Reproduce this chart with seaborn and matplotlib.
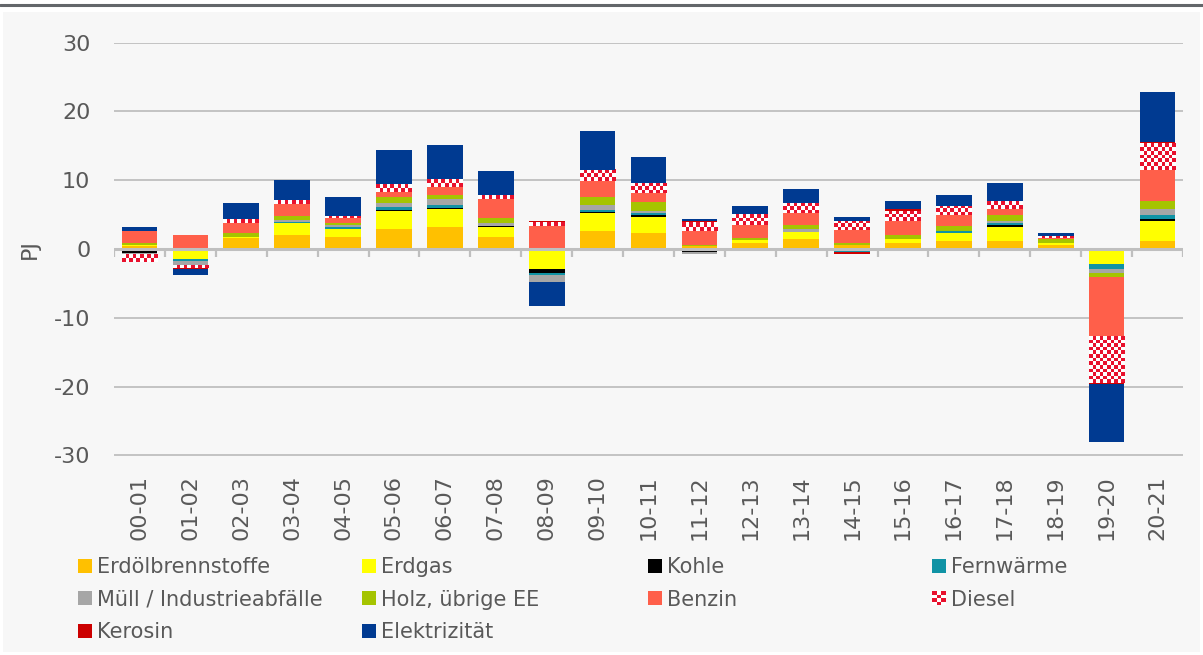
import numpy as np
import matplotlib
matplotlib.use('Agg')
import matplotlib.pyplot as plt
import seaborn as sns
from matplotlib.colors import ListedColormap
from matplotlib.patches import Patch, Rectangle
from matplotlib.lines import Line2D
from matplotlib.legend_handler import HandlerBase

sns.set_style('white')
plt.rcParams['font.family'] = ['DejaVu Sans']
plt.rcParams['axes.unicode_minus'] = False

# Veränderung Energieverbrauch gegenüber Vorjahr, PJ
seasons = ['00-01', '01-02', '02-03', '03-04', '04-05', '05-06', '06-07',
           '07-08', '08-09', '09-10', '10-11', '11-12', '12-13', '13-14',
           '14-15', '15-16', '16-17', '17-18', '18-19', '19-20', '20-21']

erdoel = [0.45, 0, 1.55, 2.1, 1.8, 2.9, 3.2, 1.8, -0.15, 2.65, 2.35,
          0.4, 0.9, 1.5, 0.65, 0.9, 1.2, 1.2, 0.6, 0, 1.2]
erdgas = [0.15, -1.4, 0.25, 1.65, 1.1, 2.6, 2.6, 1.4, -2.7, 2.6, 2.35,
          0, 0.35, 1.05, 0, 0.55, 1.1, 2.05, 0.35, -2.2, 2.85]
kohle = [-0.5, 0, 0, 0, 0, 0.25, 0.2, 0.2, -0.6, 0.2, 0.3,
         -0.35, 0, 0, 0, 0, 0, 0.25, 0, 0, 0.3]
fernwaerme = [0, -0.3, 0, 0.25, 0.35, 0.3, 0.35, 0, -0.3, 0.3, 0.3,
              0, 0, 0, -0.4, 0, 0.3, 0.3, 0, -0.65, 0.55]
muell = [-0.2, -0.6, 0, 0.2, 0.2, 0.6, 0.9, 0.4, -1.1, 0.6, 0.3,
         -0.3, 0, 0.35, 0, 0, 0, 0.3, 0, -0.6, 0.9]
holz = [0.3, 0, 0.55, 0.6, 0.35, 0.85, 0.6, 0.65, 0, 1.2, 1.2,
        0.25, 0.3, 0.6, 0.25, 0.6, 0.8, 0.85, 0.55, -0.6, 1.15]
benzin = [1.75, 2.1, 1.5, 1.75, 0.65, 0.8, 1.15, 2.9, 3.3, 2.3, 1.4,
          2.05, 2.0, 1.75, 1.85, 2.05, 1.55, 0.9, 0.15, -8.7, 4.6]
diesel = [-1.15, -0.4, 0.55, 0.6, 0.3, 1.2, 1.15, 0.55, 0.65, 1.7, 1.45,
          1.25, 1.5, 1.45, 1.4, 1.5, 1.35, 1.15, 0.2, -6.7, 3.85]
kerosin = [0, -0.15, 0, 0, 0, 0, 0, 0, 0.2, 0, 0,
           0.2, -0.3, 0, -0.25, 0.2, -0.3, 0, -0.3, -0.2, 0.2]
elektrizitaet = [0.55, -0.9, 2.35, 2.9, 2.85, 4.95, 4.95, 3.5, -3.45, 5.6, 3.8,
                 0.25, 1.15, 2.05, 0.45, 1.15, 1.5, 2.65, 0.5, -8.4, 7.3]

series_names = ['Erdölbrennstoffe', 'Erdgas', 'Kohle', 'Fernwärme',
                'Müll / Industrieabfälle', 'Holz, übrige EE', 'Benzin',
                'Diesel', 'Kerosin', 'Elektrizität']
series_values = [erdoel, erdgas, kohle, fernwaerme, muell, holz, benzin,
                 diesel, kerosin, elektrizitaet]
series_colors = ['#FFC000', '#FFFF00', '#000000', '#1093A5', '#A6A6A6',
                 '#A5C400', '#FF5F4A', '#E8112D', '#CC0000', '#003A91']

TEXT = '#595959'
GRID = '#BFBFBF'
DIESEL_CMAP = ListedColormap(['#FFFFFF', '#E8112D'])


class CheckerHandler(HandlerBase):
    '''Legend handle drawn as small red/white checkerboard.'''
    def create_artists(self, legend, orig_handle, xdescent, ydescent,
                       width, height, fontsize, trans):
        nx, ny = 3, 4
        cw, ch = width / nx, height / ny
        arts = []
        for i in range(ny):
            for j in range(nx):
                c = '#E8112D' if (i + j) % 2 else '#FFFFFF'
                arts.append(Rectangle((-xdescent + j * cw, -ydescent + i * ch), cw, ch,
                                      facecolor=c, edgecolor='none', transform=trans))
        return arts


def add_checker(ax, bars, cell_px=3.6):
    '''Overlay a checkerboard image on each bar of a container.'''
    bbox = ax.get_window_extent()
    x0, x1 = ax.get_xlim()
    y0, y1 = ax.get_ylim()
    px_x = bbox.width / (x1 - x0)
    px_y = bbox.height / (y1 - y0)
    for bar in bars:
        h = bar.get_height()
        if h == 0:
            continue
        w = bar.get_width()
        nx = max(1, int(round(w * px_x / cell_px)))
        ny = max(1, int(round(abs(h) * px_y / cell_px)))
        grid = np.indices((ny, nx)).sum(axis=0) % 2
        left, bottom = bar.get_x(), bar.get_y()
        ax.imshow(grid, cmap=DIESEL_CMAP, vmin=0, vmax=1,
                  extent=[left, left + w, bottom, bottom + h], origin='lower',
                  interpolation='nearest', aspect='auto', zorder=2)


fig = plt.figure(figsize=(12.03, 6.55), dpi=100, facecolor='white')
W, H = 1203, 655
# light panel + dark top rule
fig.patches.append(Rectangle((3 / W, 1 - 652 / H), 1197 / W, 640 / H,
                             facecolor='#F7F7F7', edgecolor='none',
                             transform=fig.transFigure, zorder=-5))
fig.add_artist(Line2D([0, 1], [1 - 5 / H, 1 - 5 / H], color='#63666A', lw=2.2,
                      transform=fig.transFigure))

ax = fig.add_axes([114 / W, 1 - 455.5 / H, 1069 / W, 412.8 / H])
ax.set_facecolor('none')
ax.set_xlim(-0.5, len(seasons) - 0.5)
ax.set_ylim(-30, 30)

pos_base = np.zeros(len(seasons))
neg_base = np.zeros(len(seasons))
for name, vals, col in zip(series_names, series_values, series_colors):
    vals = np.asarray(vals, dtype=float)
    base = np.where(vals >= 0, pos_base, neg_base)
    face = '#FFFFFF' if name == 'Diesel' else col
    sns.barplot(x=seasons, y=vals, bottom=base, color=face, saturation=1,
                width=0.7, errorbar=None, linewidth=0, ax=ax, zorder=2)
    if name == 'Diesel':
        ax.set_xlim(-0.5, len(seasons) - 0.5)
        ax.set_ylim(-30, 30)
        add_checker(ax, ax.containers[-1])
    pos_base += np.clip(vals, 0, None)
    neg_base += np.clip(vals, None, 0)

ax.set_xlim(-0.5, len(seasons) - 0.5)
ax.set_ylim(-30, 30)
ax.set_yticks(range(-30, 31, 10))
ax.yaxis.grid(True, color=GRID, lw=1.3)
ax.xaxis.grid(False)
ax.set_axisbelow(True)
for sp in ax.spines.values():
    sp.set_visible(False)
ax.tick_params(axis='y', length=0, pad=17, labelsize=16, labelcolor=TEXT)
ax.tick_params(axis='x', length=0, pad=14, labelsize=16, labelcolor=TEXT,
               labelrotation=90)
ax.set_xlabel('')
ax.set_ylabel('PJ', fontsize=16, color=TEXT, labelpad=10)

# zero line with small separators between categories
ax.axhline(0, color=GRID, lw=2.2, zorder=5)
ax.vlines(np.arange(-0.5, len(seasons), 1), 0, -1.2, color=GRID, lw=1.6,
          zorder=5)

# legend: four evenly spaced columns, filled row by row
handles = []
for name, col in zip(series_names, series_colors):
    if name == 'Diesel':
        handles.append(Patch(facecolor='white', edgecolor='none'))
    else:
        handles.append(Patch(facecolor=col, edgecolor='none'))
col_x = [78, 362, 648, 932]
for c, x in enumerate(col_x):
    idx = list(range(c, len(series_names), 4))
    fig.legend([handles[i] for i in idx], [series_names[i] for i in idx],
               loc='upper left', bbox_to_anchor=(x / W, 1 - 557 / H),
               frameon=False, fontsize=15, labelcolor=TEXT,
               handlelength=0.65, handleheight=0.65, handletextpad=0.25,
               labelspacing=0.6, borderpad=0, borderaxespad=0,
               handler_map={handles[7]: CheckerHandler()})

fig.savefig('out.png', dpi=100)
